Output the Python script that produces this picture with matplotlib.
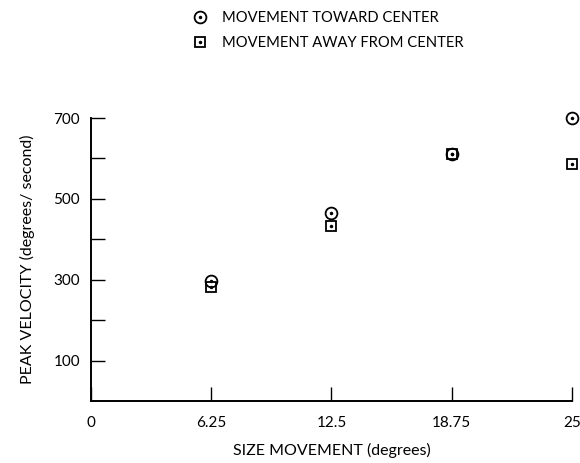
import matplotlib.pyplot as plt
from matplotlib.lines import Line2D

plt.rcParams['font.family'] = ['Lato', 'DejaVu Sans']

sizes = [6.25, 12.5, 18.75, 25]
toward_center = [297, 465, 611, 700]
away_from_center = [282, 432, 611, 586]

x_ticks = [0, 6.25, 12.5, 18.75, 25]
x_labels = ['0', '6.25', '12.5', '18.75', '25']
y_ticks = [100, 300, 500, 700]
y_minor = [200, 400, 600]

fig = plt.figure(figsize=(5.8, 4.63), dpi=100)
ax = fig.add_axes([0.157, 0.134, 0.829, 0.611])

# circles with a dot in the middle
ax.plot(sizes, toward_center, 'o', ms=8.5, mfc='none', mec='black', mew=1.3, clip_on=False)
ax.plot(sizes, toward_center, '.', ms=3, color='black', clip_on=False)
# squares with a dot in the middle
ax.plot(sizes, away_from_center, 's', ms=7.5, mfc='none', mec='black', mew=1.3, clip_on=False)
ax.plot(sizes, away_from_center, '.', ms=3, color='black', clip_on=False)

ax.set_xlim(0, 25)
ax.set_ylim(0, 700)
ax.set_xticks(x_ticks)
ax.set_xticklabels(x_labels)
ax.set_yticks(y_ticks)
ax.set_yticks(y_minor, minor=True)

for side in ['top', 'right']:
    ax.spines[side].set_visible(False)
for side in ['left', 'bottom']:
    ax.spines[side].set_linewidth(1.4)

ax.tick_params(axis='both', which='both', direction='in', length=10, width=1.0,
               labelsize=11, pad=11)
ax.tick_params(axis='y', which='major', pad=8)

ax.set_xlabel('SIZE MOVEMENT (degrees)', fontsize=11.5, labelpad=9)
ax.set_ylabel('PEAK VELOCITY (degrees/ second)', fontsize=11.5, labelpad=13)

handles = [
    (Line2D([], [], ls='none', marker='o', ms=8.5, mfc='none', mec='black', mew=1.3),
     Line2D([], [], ls='none', marker='.', ms=3, color='black')),
    (Line2D([], [], ls='none', marker='s', ms=7.5, mfc='none', mec='black', mew=1.3),
     Line2D([], [], ls='none', marker='.', ms=3, color='black')),
]
fig.legend(handles, ['MOVEMENT TOWARD CENTER', 'MOVEMENT AWAY FROM CENTER'],
           loc='upper left', bbox_to_anchor=(0.31, 1.005), frameon=False,
           fontsize=10.6, handlelength=1.0, handletextpad=1.0, labelspacing=0.75)

fig.savefig('out.png', dpi=100)
